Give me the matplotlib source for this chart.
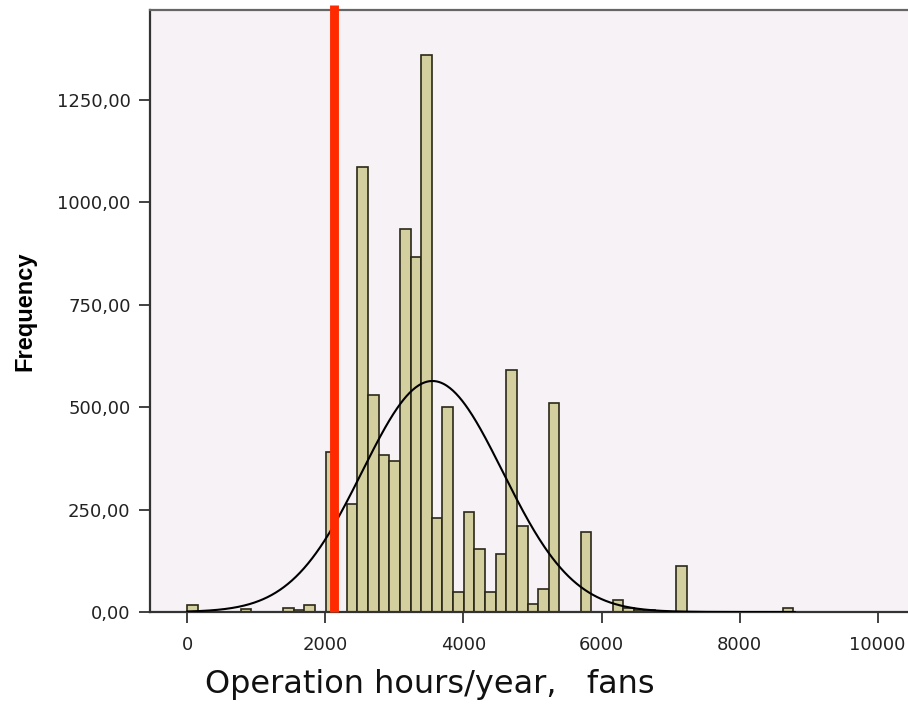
import numpy as np
import matplotlib
matplotlib.use("Agg")
import matplotlib.pyplot as plt

# ------------------------------------------------------------
# DATA
# ------------------------------------------------------------
bin_width = 154
bin_index = [0, 5, 9, 10, 11, 13, 15, 16, 17, 18, 19, 20, 21, 22, 23, 24,
             25, 26, 27, 28, 29, 30, 31, 32, 33, 34, 37, 40, 41, 42, 43, 46, 56]
counts = [18, 8, 10, 6, 18, 390, 264, 1086, 531, 383, 369, 935, 867, 1361, 229, 501,
          48, 245, 155, 48, 141, 592, 210, 19, 55, 511, 195, 29, 9, 5, 5, 113, 9]

curve_mean = 3550
curve_sd = 1020
limit_hours = 2121

x_ticks = [0, 2000, 4000, 6000, 8000, 10000]
y_ticks = [0, 250, 500, 750, 1000, 1250]

# ------------------------------------------------------------
# FIGURE
# ------------------------------------------------------------
fig = plt.figure(figsize=(9.08, 7.08), dpi=100)
ax = fig.add_axes([150 / 908, 1 - 612 / 708, 760 / 908, 602 / 708])
ax.set_facecolor("#f6f2f6")

lefts = np.array(bin_index) * bin_width
ax.bar(lefts, counts, width=bin_width, align="edge",
       color="#d4cf9f", edgecolor="#2a2818", linewidth=1.2, zorder=2)

# normal curve
n_total = np.sum(counts)
xs = np.linspace(0, 8800, 600)
ys = n_total * bin_width / (curve_sd * np.sqrt(2 * np.pi)) * np.exp(-0.5 * ((xs - curve_mean) / curve_sd) ** 2)
ax.plot(xs, ys, color="black", linewidth=1.5, zorder=3)

# red limit line
ax.plot([limit_hours, limit_hours], [0, 1482], color="#ff2a00", linewidth=6.4,
        solid_capstyle="butt", clip_on=False, zorder=4)

ax.set_xlim(-542, 10470)
ax.set_ylim(0, 1470)

ax.set_xticks(x_ticks)
ax.set_xticklabels([str(v) for v in x_ticks])
ax.set_yticks(y_ticks)
ax.set_yticklabels([f"{v:.2f}".replace(".", ",") for v in y_ticks])

ax.tick_params(axis="both", direction="out", length=8, width=1.3, color="#333333",
               labelsize=13, labelcolor="#222222")
ax.tick_params(axis="x", pad=9)
ax.tick_params(axis="y", pad=6)

for side in ["left", "bottom"]:
    ax.spines[side].set_color("#333333")
    ax.spines[side].set_linewidth(1.6)
ax.spines["top"].set_color("#666666")
ax.spines["top"].set_linewidth(1.6)
ax.spines["right"].set_visible(False)

ax.set_ylabel("Frequency", family="Liberation Sans", fontweight="bold", fontsize=17)
ax.yaxis.set_label_coords(-114 / 760, 0.5)

fig.text(430 / 908, 1 - 693 / 708, "Operation hours/year,   fans",
         ha="center", va="baseline", fontsize=23, color="#111111")

fig.savefig("out.png", dpi=100)
